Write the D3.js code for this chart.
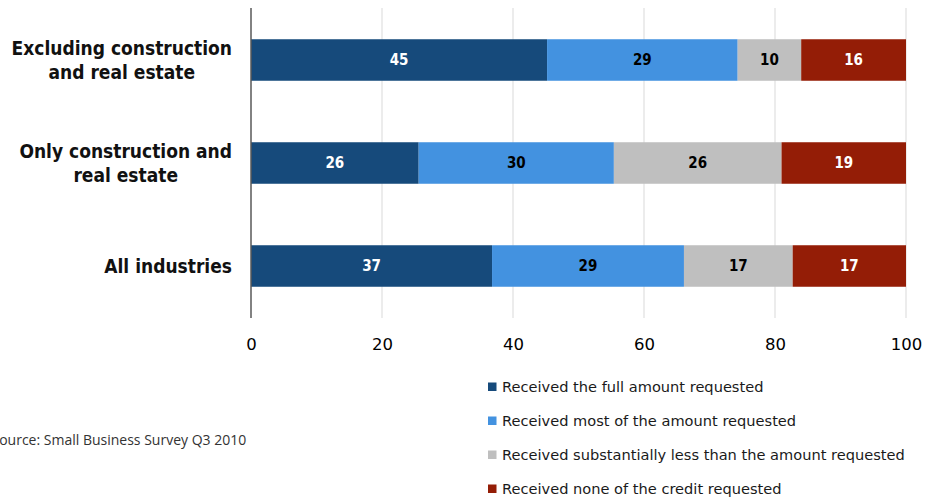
<!DOCTYPE html>
<html>
<head>
<meta charset="utf-8">
<script src="https://cdn.jsdelivr.net/npm/d3@7"></script>
<style>
  html, body { margin: 0; padding: 0; background: #fff; }
  svg { display: block; }
</style>
</head>
<body>
<svg id="chart" width="938" height="497"></svg>
<script>
// Credit outcomes by industry group (percent of applicants)
const categories = [
  "Excluding construction and real estate",
  "Only construction and real estate",
  "All industries"
];
const categoryLines = [
  ["Excluding construction", "and real estate"],
  ["Only construction and", "real estate"],
  ["All industries"]
];
const seriesNames = [
  "Received the full amount requested",
  "Received most of the amount requested",
  "Received substantially less than the amount requested",
  "Received none of the credit requested"
];
const fullAmount   = [45.2, 25.6, 36.8];
const mostAmount   = [29.1, 29.8, 29.3];
const lessAmount   = [9.7, 25.6, 16.6];
const noneAmount   = [16.0, 19.0, 17.3];
const tickValues   = [0, 20, 40, 60, 80, 100];
const sourceNote   = "Source: Small Business Survey Q3 2010";

const colors = ["#164a7b", "#4392e0", "#bfbfbf", "#941d06"];
const labelColors = ["#ffffff", "#000000", "#000000", "#ffffff"];

const seriesValues = [fullAmount, mostAmount, lessAmount, noneAmount];
const rows = categories.map((c, i) => {
  const r = { category: c };
  seriesNames.forEach((s, j) => { r[s] = seriesValues[j][i]; });
  return r;
});
const stacked = d3.stack().keys(seriesNames)(rows);

const svg = d3.select("#chart");
const x = d3.scaleLinear().domain([0, 100]).range([251, 906]);
const y = d3.scaleBand().domain(categories).range([8.5, 317.5]).paddingInner(0.597).paddingOuter(0.2985);

// vertical gridlines
svg.append("g")
  .selectAll("line")
  .data(tickValues.filter(t => t > 0))
  .join("line")
  .attr("x1", d => x(d)).attr("x2", d => x(d))
  .attr("y1", 8).attr("y2", 318)
  .attr("stroke", "#d9d9d9").attr("stroke-width", 1);

// stacked bars
const layer = svg.append("g")
  .selectAll("g")
  .data(stacked)
  .join("g")
  .attr("fill", (d, i) => colors[i]);

layer.selectAll("rect")
  .data(d => d.map(p => ({ p, key: d.key })))
  .join("rect")
  .attr("x", d => x(d.p[0]))
  .attr("width", d => x(d.p[1]) - x(d.p[0]))
  .attr("y", d => y(d.p.data.category))
  .attr("height", y.bandwidth());

// value labels
const fmt = d3.format(".0f");
stacked.forEach((s, i) => {
  svg.append("g")
    .selectAll("text")
    .data(s)
    .join("text")
    .attr("x", d => (x(d[0]) + x(d[1])) / 2)
    .attr("y", d => y(d.data.category) + y.bandwidth() / 2)
    .attr("dy", "0.36em")
    .attr("text-anchor", "middle")
    .attr("font-family", "'DejaVu Sans Condensed', 'DejaVu Sans', sans-serif")
    .attr("font-weight", "bold")
    .attr("font-size", 15)
    .attr("fill", labelColors[i])
    .text(d => fmt(d[1] - d[0]));
});

// left axis line
svg.append("line")
  .attr("x1", 251).attr("x2", 251)
  .attr("y1", 8).attr("y2", 318)
  .attr("stroke", "#595959").attr("stroke-width", 1.5);

// x tick labels
const xAxis = d3.axisBottom(x).tickValues(tickValues).tickSize(0).tickPadding(0).tickFormat(d3.format("d"));
const gx = svg.append("g").attr("transform", "translate(0,338)").call(xAxis);
gx.select(".domain").remove();
gx.selectAll("text")
  .attr("font-family", "'DejaVu Sans', sans-serif")
  .attr("font-size", 16.5)
  .attr("fill", "#000");

// category labels: block right-aligned, lines centred within the block
const catG = svg.append("g");
const catRight = 232;
categories.forEach((c, i) => {
  const lines = categoryLines[i];
  const cy = y(c) + y.bandwidth() / 2;
  const lh = 24;
  const t = catG.append("text")
    .attr("text-anchor", "middle")
    .attr("font-family", "'DejaVu Sans Condensed', 'DejaVu Sans', sans-serif")
    .attr("font-weight", "bold")
    .attr("font-size", 19)
    .attr("fill", "#111");
  const spans = lines.map((ln, k) => t.append("tspan")
    .attr("y", cy + (k - (lines.length - 1) / 2) * lh)
    .attr("dy", "0.36em")
    .text(ln));
  const maxW = d3.max(spans, s => s.node().getComputedTextLength());
  spans.forEach(s => s.attr("x", catRight - maxW / 2));
});

// legend
const legend = svg.append("g")
  .selectAll("g")
  .data(seriesNames)
  .join("g")
  .attr("transform", (d, i) => `translate(488,${387 + i * 34})`);
legend.append("rect")
  .attr("x", 0).attr("y", -4.5).attr("width", 8.5).attr("height", 8.5)
  .attr("fill", (d, i) => colors[i]);
legend.append("text")
  .attr("x", 14).attr("y", 0).attr("dy", "0.36em")
  .attr("font-family", "'DejaVu Sans', sans-serif")
  .attr("font-size", 14.6)
  .attr("fill", "#1a1a1a")
  .text(d => d);

// source note
svg.append("text")
  .attr("x", -8.5).attr("y", 440).attr("dy", "0.36em")
  .attr("font-family", "'Open Sans', 'Liberation Sans', sans-serif")
  .attr("font-size", 14)
  .attr("fill", "#333")
  .text(sourceNote);
</script>
</body>
</html>
